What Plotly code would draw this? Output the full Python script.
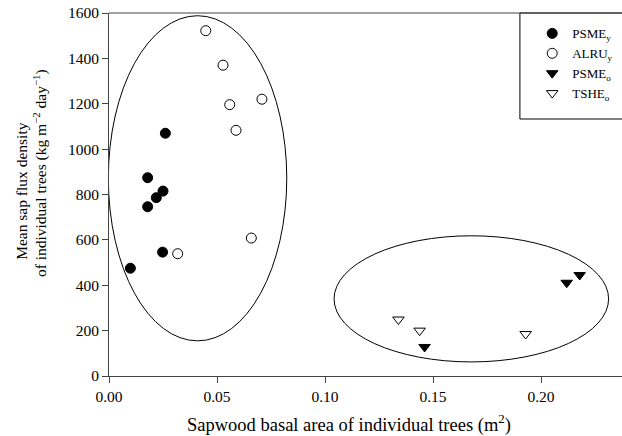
import plotly.graph_objects as go

# Data
psme_y_x = [0.0261, 0.0179, 0.0250, 0.0219, 0.0179, 0.0248, 0.0099]
psme_y_y = [1070, 874, 815, 786, 746, 546, 475]

alru_y_x = [0.0448, 0.0528, 0.0559, 0.0708, 0.0588, 0.0659, 0.0318]
alru_y_y = [1522, 1370, 1196, 1220, 1083, 608, 539]

psme_o_x = [0.2179, 0.2119, 0.1461]
psme_o_y = [445, 411, 128]

tshe_o_x = [0.1340, 0.1438, 0.1929]
tshe_o_y = [249, 200, 185]

x_ticks = [0.0, 0.05, 0.10, 0.15, 0.20]
y_ticks = [0, 200, 400, 600, 800, 1000, 1200, 1400, 1600]

x_title = "Sapwood basal area of individual trees (m<sup>2</sup>)"
y_title_1 = "Mean sap flux density"
y_title_2 = "of individual trees (kg m<sup>\u22122</sup> day<sup>\u22121</sup>)"

FONT = "Liberation Serif, 'Times New Roman', Times, serif"
AX = "#444"

fig = go.Figure()
fig.add_trace(go.Scatter(x=psme_y_x, y=psme_y_y, mode="markers", name="PSME<sub>y</sub>",
                         marker=dict(symbol="circle", size=10, color="black",
                                     line=dict(color="black", width=1))))
fig.add_trace(go.Scatter(x=alru_y_x, y=alru_y_y, mode="markers", name="ALRU<sub>y</sub>",
                         marker=dict(symbol="circle-open", size=10, color="black",
                                     line=dict(color="black", width=1))))
fig.add_trace(go.Scatter(x=psme_o_x, y=psme_o_y, mode="markers", name="PSME<sub>o</sub>",
                         marker=dict(symbol="triangle-down", size=10, color="black",
                                     line=dict(color="black", width=1))))
fig.add_trace(go.Scatter(x=tshe_o_x, y=tshe_o_y, mode="markers", name="TSHE<sub>o</sub>",
                         marker=dict(symbol="triangle-down-open", size=10, color="black",
                                     line=dict(color="black", width=1))))

# Grouping ellipses
fig.add_shape(type="circle", xref="x", yref="y", x0=-0.0003, x1=0.0823, y0=155, y1=1588,
              line=dict(color="black", width=1))
fig.add_shape(type="circle", xref="x", yref="y", x0=0.1042, x1=0.2313, y0=62, y1=618,
              line=dict(color="black", width=1))

# Legend box (extends past the right edge, as in the reference)
fig.add_shape(type="rect", xref="paper", yref="paper", x0=0.801, x1=1.2, y0=0.708, y1=1.0,
              line=dict(color="black", width=1))
# Top frame line
fig.add_shape(type="line", xref="paper", yref="paper", x0=0, x1=1, y0=1, y1=1,
              line=dict(color=AX, width=1))

# Axis titles as annotations
fig.add_annotation(text=x_title, xref="paper", yref="paper", x=0.467, y=0,
                   xanchor="center", yanchor="middle", yshift=-47, showarrow=False,
                   font=dict(family=FONT, size=18.5, color="black"))
fig.add_annotation(text=y_title_1, xref="paper", yref="paper", x=0, y=0.51,
                   xanchor="center", yanchor="middle", xshift=-87, textangle=-90,
                   showarrow=False, font=dict(family=FONT, size=15.5, color="black"))
fig.add_annotation(text=y_title_2, xref="paper", yref="paper", x=0, y=0.559,
                   xanchor="center", yanchor="middle", xshift=-69, textangle=-90,
                   showarrow=False, font=dict(family=FONT, size=15.5, color="black"))

fig.update_layout(
    width=622, height=436,
    margin=dict(l=109, r=0, t=13, b=60),
    paper_bgcolor="white", plot_bgcolor="white",
    font=dict(family=FONT, color="black", size=15),
    showlegend=True,
    legend=dict(x=0.825, y=0.985, xanchor="left", yanchor="top",
                bgcolor="rgba(0,0,0,0)", borderwidth=0,
                font=dict(family=FONT, size=13, color="black"),
                itemwidth=30, tracegroupgap=0),
    xaxis=dict(range=[0, 0.2375], tickvals=x_ticks, tickformat=".2f",
               showline=True, linecolor=AX, linewidth=1,
               ticks="outside", ticklen=6, tickcolor=AX,
               showgrid=False, zeroline=False,
               tickfont=dict(family=FONT, size=15.5)),
    yaxis=dict(range=[0, 1600], tickvals=y_ticks,
               showline=True, linecolor=AX, linewidth=1,
               ticks="outside", ticklen=6, tickcolor=AX,
               showgrid=False, zeroline=False,
               tickfont=dict(family=FONT, size=15.5)),
)

fig.write_html("out.html")
